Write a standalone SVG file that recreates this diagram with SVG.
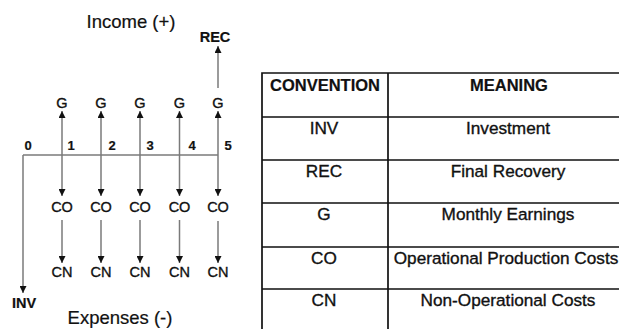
<svg xmlns="http://www.w3.org/2000/svg" width="619" height="329" viewBox="0 0 619 329">
<style>
text{font-family:"Liberation Sans",Arial,sans-serif;fill:#111;stroke:#111;stroke-width:0.35;text-anchor:middle}
.lbl{font-size:14.5px}
.b{font-weight:bold;stroke-width:0.2}
.num{font-size:13px;font-weight:bold;stroke-width:0.2}
.big{font-size:18.5px;stroke-width:0.2}
.th{font-size:16.5px;font-weight:bold;stroke-width:0.2}
.td{font-size:17.2px}
.ln{stroke:#7a7a7a;stroke-width:1.5;fill:none}
.ar{stroke:#7a7a7a;stroke-width:1.5;fill:none;marker-end:url(#ah)}
.tb{stroke:#111;stroke-width:1.7;fill:none}
</style>
<defs>
<marker id="ah" viewBox="0 0 10 10" refX="10" refY="5" markerWidth="8" markerHeight="7" markerUnits="userSpaceOnUse" orient="auto">
<path d="M0,0 L10,5 L0,10 z" fill="#111"/>
</marker>
</defs>
<g id="titles">
<text class="big" x="131" y="28">Income (+)</text>
<text class="big" x="120" y="324">Expenses (-)</text>
</g>
<g id="connectors">
<path class="ln" d="M23,155 H218"/>
<path class="ar" d="M23,155 V293"/>
<path class="ar" d="M62,155 V111"/>
<path class="ar" d="M101,155 V111"/>
<path class="ar" d="M140,155 V111"/>
<path class="ar" d="M179.5,155 V111"/>
<path class="ar" d="M218,155 V111"/>
<path class="ar" d="M218,88 V46"/>
<path class="ar" d="M62,155 V196"/>
<path class="ar" d="M101,155 V196"/>
<path class="ar" d="M140,155 V196"/>
<path class="ar" d="M179.5,155 V196"/>
<path class="ar" d="M218,155 V196"/>
<path class="ar" d="M62,220 V263"/>
<path class="ar" d="M101,220 V263"/>
<path class="ar" d="M140,220 V263"/>
<path class="ar" d="M179.5,220 V263"/>
<path class="ar" d="M218,221 V263"/>
</g>
<g id="axis-numbers">
<text class="num" x="28" y="150">0</text>
<text class="num" x="71" y="150">1</text>
<text class="num" x="112" y="150">2</text>
<text class="num" x="150" y="150">3</text>
<text class="num" x="192" y="150">4</text>
<text class="num" x="228" y="150">5</text>
</g>
<g id="node-rec"><text class="lbl b" x="215" y="42">REC</text></g>
<g id="node-inv"><text class="lbl b" x="24" y="308">INV</text></g>
<g id="nodes-g">
<text class="lbl" x="62" y="108">G</text>
<text class="lbl" x="101" y="108">G</text>
<text class="lbl" x="140" y="108">G</text>
<text class="lbl" x="179.5" y="108">G</text>
<text class="lbl" x="218" y="108">G</text>
</g>
<g id="nodes-co">
<text class="lbl" x="62" y="212">CO</text>
<text class="lbl" x="101" y="212">CO</text>
<text class="lbl" x="140" y="212">CO</text>
<text class="lbl" x="179.5" y="212">CO</text>
<text class="lbl" x="218" y="212">CO</text>
</g>
<g id="nodes-cn">
<text class="lbl" x="62" y="277">CN</text>
<text class="lbl" x="101" y="277">CN</text>
<text class="lbl" x="140" y="277">CN</text>
<text class="lbl" x="179.5" y="277">CN</text>
<text class="lbl" x="218" y="277">CN</text>
</g>
<g id="table">
<path class="tb" d="M262,335 V73 H630 M388,73 V335 M262,117 H630 M262,160 H630 M262,203 H630 M262,247 H630 M262,289 H630"/>
<text class="th" x="325" y="91">CONVENTION</text>
<text class="th" x="509" y="91">MEANING</text>
<text class="td" x="324" y="134">INV</text>
<text class="td" x="508" y="134">Investment</text>
<text class="td" x="324" y="177">REC</text>
<text class="td" x="508" y="177">Final Recovery</text>
<text class="td" x="324" y="220">G</text>
<text class="td" x="508" y="220">Monthly Earnings</text>
<text class="td" x="324" y="264">CO</text>
<text class="td" x="506" y="264">Operational Production Costs</text>
<text class="td" x="324" y="306">CN</text>
<text class="td" x="508" y="306">Non-Operational Costs</text>
</g>
</svg>
